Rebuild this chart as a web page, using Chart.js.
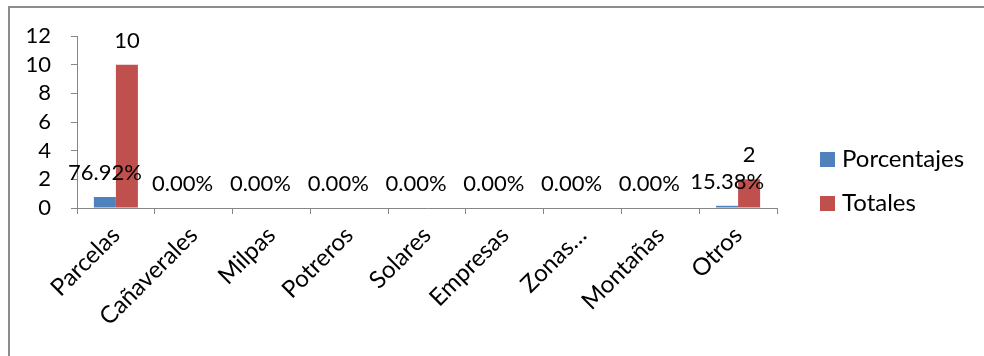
<!DOCTYPE html>
<html>
<head>
<meta charset="utf-8">
<script src="https://cdn.jsdelivr.net/npm/chart.js@4.4.1/dist/chart.umd.min.js"></script>
<style>
  html, body { margin: 0; padding: 0; background: #fff; }
  #frame {
    position: absolute; left: 8px; top: 6px; width: 980px; height: 360px;
    border-left: 2px solid #8c8c8c; border-top: 2px solid #8c8c8c;
  }
  #wrap { position: absolute; left: 0; top: 0; width: 984px; height: 356px; }
</style>
</head>
<body>
<div id="frame"></div>
<div id="wrap"><canvas id="chart" width="984" height="356"></canvas></div>
<script>
// chart data
const categories = ['Parcelas', 'Cañaverales', 'Milpas', 'Potreros', 'Solares', 'Empresas', 'Zonas…', 'Montañas', 'Otros'];
const porcentajes = [0.7692, 0, 0, 0, 0, 0, 0, 0, 0.1538];
const totales = [10, 0, 0, 0, 0, 0, 0, 0, 2];
const yTicks = [0, 2, 4, 6, 8, 10, 12];

const FONT = 'Lato, "Open Sans", sans-serif';
const BLUE = '#4F81BD';
const RED = '#C0504D';
const AXIS = '#868686';

document.addEventListener('DOMContentLoaded', () => {
    // value labels above bars + legend on the right
    const excelLabels = {
        id: 'excelLabels',
        afterDatasetsDraw(chart) {
            const ctx = chart.ctx;
            ctx.save();
            ctx.font = '22px ' + FONT;
            ctx.fillStyle = '#000';
            ctx.textAlign = 'center';
            ctx.textBaseline = 'bottom';
            chart.data.datasets.forEach((ds, i) => {
                const meta = chart.getDatasetMeta(i);
                meta.data.forEach((bar, j) => {
                    const v = ds.data[j];
                    let txt;
                    if (i === 0) txt = (v * 100).toFixed(2) + '%';
                    else if (v !== 0) txt = String(v);
                    else return;
                    ctx.fillText(txt, bar.x, bar.y - 13);
                });
            });

            // legend
            const items = chart.data.datasets;
            ctx.textAlign = 'left';
            ctx.textBaseline = 'middle';
            ctx.font = '24px ' + FONT;
            items.forEach((ds, i) => {
                const y = 159 + i * 44;
                ctx.fillStyle = ds.backgroundColor;
                ctx.fillRect(820, y - 7, 15, 15);
                ctx.fillStyle = '#000';
                ctx.fillText(ds.label, 842, y);
            });
            ctx.restore();
        }
    };

    new Chart(document.getElementById('chart'), {
        type: 'bar',
        data: {
            labels: categories,
            datasets: [
                { label: 'Porcentajes', data: porcentajes, backgroundColor: BLUE },
                { label: 'Totales', data: totales, backgroundColor: RED }
            ]
        },
        options: {
            responsive: false,
            animation: false,
            layout: { padding: { top: 36, right: 207, left: 0, bottom: 0 } },
            datasets: { bar: { categoryPercentage: 0.566, barPercentage: 1 } },
            plugins: { legend: { display: false }, tooltip: { enabled: false } },
            scales: {
                x: {
                    afterFit: (s) => { s.height = 148; },
                    grid: { display: true, drawOnChartArea: false, drawTicks: true, tickLength: 6, color: AXIS, offset: true },
                    border: { color: AXIS, width: 1 },
                    ticks: {
                        color: '#000', font: { family: FONT, size: 24 },
                        minRotation: 45, maxRotation: 45, autoSkip: false, padding: 7
                    }
                },
                y: {
                    min: 0, max: 12,
                    afterFit: (s) => { s.width = 77; },
                    afterBuildTicks: (s) => { s.ticks = yTicks.map(v => ({ value: v })); },
                    grid: { display: true, drawOnChartArea: false, drawTicks: true, tickLength: 6, color: AXIS },
                    border: { color: AXIS, width: 1 },
                    ticks: { color: '#000', font: { family: FONT, size: 22 }, padding: 20, autoSkip: false }
                }
            }
        },
        plugins: [excelLabels]
    });
});
</script>
</body>
</html>
